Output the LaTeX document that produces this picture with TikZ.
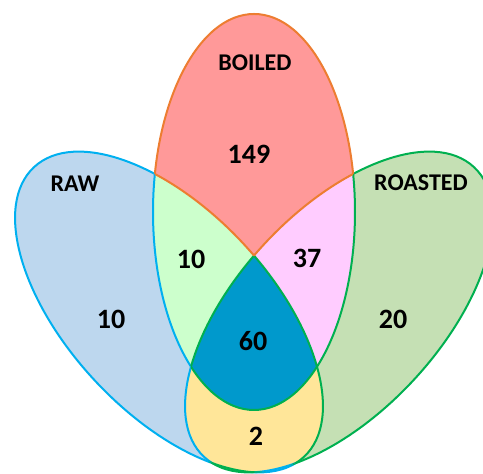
\documentclass[tikz,border=0pt]{standalone}
\usepackage{fontspec}
\setmainfont{Carlito}
\usepackage{tikz}
\definecolor{rawline}{HTML}{00B0F0}
\definecolor{boiledline}{HTML}{ED7D31}
\definecolor{roastedline}{HTML}{00B050}
\definecolor{rawfill}{HTML}{BDD7EE}
\definecolor{boiledfill}{HTML}{FF9999}
\definecolor{roastedfill}{HTML}{C5E0B4}
\definecolor{rawboiled}{HTML}{CCFFCC}
\definecolor{boiledroasted}{HTML}{FFCCFF}
\definecolor{rawroasted}{HTML}{FFE699}
\definecolor{allthree}{HTML}{0099CC}
\def\bigbox{(0,0) rectangle (483,474)}
\def\rawshape{(169,162) circle [x radius=101, y radius=198, rotate=43]}
\def\boiledshape{(254,262) circle [x radius=101, y radius=198]}
\def\roastedshape{(339,162) circle [x radius=101, y radius=198, rotate=-43]}
\def\outside#1{\clip \bigbox #1;}

\begin{document}
\begin{tikzpicture}[x=0.5pt, y=0.5pt, line width=1pt,
    setname/.style={font=\bfseries\fontsize{12}{14}\selectfont},
    count/.style={font=\bfseries\fontsize{14}{17}\selectfont}]
		%%%%% START %%%%%
		\clip \bigbox;
		
		% sets
		\fill[rawfill] \rawshape;
		\fill[roastedfill] \roastedshape;
		\fill[boiledfill] \boiledshape;
		
		% overlaps
		\begin{scope} \clip \rawshape; \fill[rawboiled] \boiledshape; \end{scope}
		\begin{scope} \clip \roastedshape; \fill[boiledroasted] \boiledshape; \end{scope}
		\begin{scope} \clip \rawshape; \fill[rawroasted] \roastedshape; \end{scope}
		\begin{scope} \clip \rawshape; \clip \roastedshape; \fill[allthree] \boiledshape; \end{scope}
		
		% blue edges
		\begin{scope}[even odd rule] \outside\boiledshape \outside\roastedshape \draw[rawline] \rawshape; \end{scope}
		\begin{scope}[even odd rule] \clip \rawshape; \outside\roastedshape \draw[rawline] \boiledshape; \end{scope}
		\begin{scope}[even odd rule] \clip \rawshape; \outside\boiledshape \draw[rawline] \roastedshape; \end{scope}
		
		% green edges
		\begin{scope}[even odd rule] \outside\rawshape \outside\boiledshape \draw[roastedline] \roastedshape; \end{scope}
		\begin{scope}[even odd rule] \clip \roastedshape; \outside\rawshape \draw[roastedline] \boiledshape; \end{scope}
		\begin{scope}[even odd rule] \clip \roastedshape; \outside\boiledshape \draw[roastedline] \rawshape; \end{scope}
		\begin{scope} \clip \rawshape; \clip \roastedshape; \draw[roastedline] \boiledshape; \end{scope}
		\begin{scope} \clip \boiledshape; \clip \roastedshape; \draw[roastedline] \rawshape; \end{scope}
		\begin{scope} \clip \boiledshape; \clip \rawshape; \draw[roastedline] \roastedshape; \end{scope}
		
		% orange edges
		\begin{scope}[even odd rule] \outside\rawshape \outside\roastedshape \draw[boiledline] \boiledshape; \end{scope}
		\begin{scope}[even odd rule] \clip \boiledshape; \outside\roastedshape \draw[boiledline] \rawshape; \end{scope}
		\begin{scope}[even odd rule] \clip \boiledshape; \outside\rawshape \draw[boiledline] \roastedshape; \end{scope}
		
		% labels
		\node[setname] (boiled) at (255,411) {BOILED};
		\node[setname] (raw) at (75,290) {RAW};
		\node[setname] (roasted) at (421,291) {ROASTED};
		
		\node[count] (nboiled) at (249,320) {149};
		\node[count] (nrawboiled) at (191,215) {10};
		\node[count] (nboiledroasted) at (307,216) {37};
		\node[count] (nraw) at (111,155) {10};
		\node[count] (nroasted) at (393,155) {20};
		\node[count] (nall) at (253,133) {60};
		\node[count] (nrawroasted) at (256,38) {2};
		
		%%%%% END %%%%%
	\end{tikzpicture}
\end{document}
